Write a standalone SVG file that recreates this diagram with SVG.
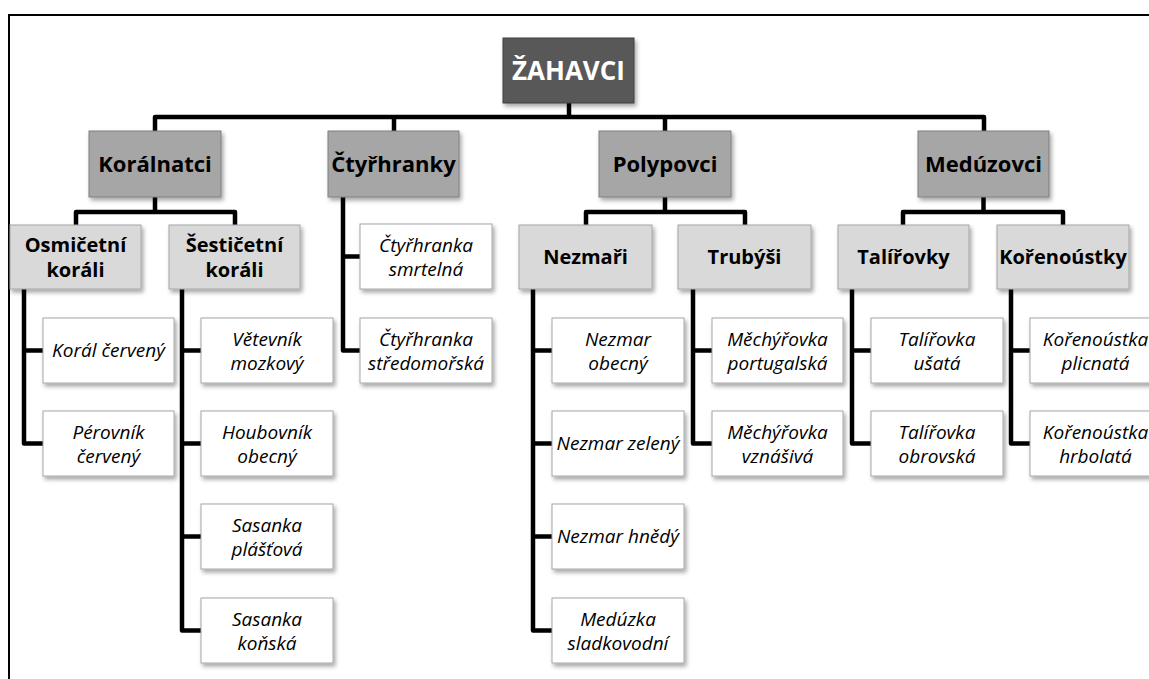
<svg xmlns="http://www.w3.org/2000/svg" width="1149" height="679" viewBox="0 0 1149 679">
<defs>
<filter id="sh" x="-10%" y="-10%" width="130%" height="140%">
<feDropShadow dx="2" dy="3" stdDeviation="2" flood-color="#000" flood-opacity="0.35"/>
</filter>
<style>
.box{filter:url(#sh);stroke-width:1}
.top{fill:#595959;stroke:#3f3f3f}
.l1{fill:#a6a6a6;stroke:#7f7f7f}
.l2{fill:#d9d9d9;stroke:#a6a6a6}
.lf{fill:#ffffff;stroke:#a6a6a6}
text{font-family:"Open Sans","Liberation Sans",sans-serif;text-anchor:middle}
.tt{font-size:26px;font-weight:bold;fill:#ffffff}
.t1{font-size:22px;font-weight:bold;fill:#000}
.t2{font-size:20px;font-weight:bold;fill:#000}
.tl{font-size:19px;font-style:italic;fill:#000}
.con{fill:none;stroke:#000;stroke-width:4.5;stroke-linejoin:round;stroke-linecap:butt}
</style>
</defs>
<rect width="1149" height="679" fill="#ffffff"/>
<path d="M9,680 V15 H1150" fill="none" stroke="#000" stroke-width="2"/>

<g id="connectors" class="con">
<path d="M569,103 V117"/>
<path d="M155,131 V117 H984 V131"/>
<path d="M394,117 V132"/>
<path d="M665,117 V131"/>
<path d="M155,197 V212"/>
<path d="M76,225 V212 H235 V225"/>
<path d="M24,289 V443.5 H43 M24,350.5 H43"/>
<path d="M182,289 V630.5 H201 M182,350.5 H201 M182,443.5 H201 M182,536.5 H201"/>
<path d="M343,196 V350.5 H360 M343,256.5 H360"/>
<path d="M665,197 V212"/>
<path d="M586,225 V212 H745 V225"/>
<path d="M533,289 V630.5 H552 M533,350.5 H552 M533,443.5 H552 M533,536.5 H552"/>
<path d="M693,289 V443.5 H712 M693,350.5 H712"/>
<path d="M983.5,197 V212"/>
<path d="M903,225 V212 H1063 V225"/>
<path d="M852,289 V443.5 H871 M852,350.5 H871"/>
<path d="M1011,289 V443.5 H1030 M1011,350.5 H1030"/>
</g>

<g id="zahavci"><rect class="box top" x="503" y="38" width="131" height="65"/><text class="tt" x="568.5" y="80">ŽAHAVCI</text></g>

<g id="koralnatci"><rect class="box l1" x="89" y="131" width="132" height="66"/><text class="t1" x="155" y="172">Korálnatci</text></g>
<g id="ctyrhranky"><rect class="box l1" x="328" y="131" width="131" height="66"/><text class="t1" x="393.5" y="172">Čtyřhranky</text></g>
<g id="polypovci"><rect class="box l1" x="599" y="131" width="132" height="66"/><text class="t1" x="665" y="172">Polypovci</text></g>
<g id="meduzovci"><rect class="box l1" x="918" y="131" width="131" height="66"/><text class="t1" x="983.5" y="172">Medúzovci</text></g>

<g id="osmicetni"><rect class="box l2" x="10" y="225" width="131" height="64"/><text class="t2" x="75.5" y="251.5">Osmičetní</text><text class="t2" x="75.5" y="276.5">koráli</text></g>
<g id="sesticetni"><rect class="box l2" x="169" y="225" width="131" height="64"/><text class="t2" x="234.5" y="251.5">Šestičetní</text><text class="t2" x="234.5" y="276.5">koráli</text></g>
<g id="nezmari"><rect class="box l2" x="519" y="225" width="133" height="64"/><text class="t2" x="585.5" y="264">Nezmaři</text></g>
<g id="trubysi"><rect class="box l2" x="678" y="225" width="133" height="64"/><text class="t2" x="744.5" y="264">Trubýši</text></g>
<g id="talirovky"><rect class="box l2" x="838" y="225" width="131" height="64"/><text class="t2" x="903.5" y="264">Talířovky</text></g>
<g id="korenoustky"><rect class="box l2" x="997" y="225" width="132" height="64"/><text class="t2" x="1063" y="264">Kořenoústky</text></g>

<g id="koral-cerveny"><rect class="box lf" x="43" y="318" width="131" height="65"/><text class="tl" x="108.5" y="357">Korál červený</text></g>
<g id="perovnik-cerveny"><rect class="box lf" x="43" y="411" width="131" height="65"/><text class="tl" x="108.5" y="438.5">Pérovník</text><text class="tl" x="108.5" y="462.5">červený</text></g>

<g id="vetevnik"><rect class="box lf" x="201" y="318" width="132" height="65"/><text class="tl" x="267" y="345.5">Větevník</text><text class="tl" x="267" y="369.5">mozkový</text></g>
<g id="houbovnik"><rect class="box lf" x="201" y="411" width="132" height="65"/><text class="tl" x="267" y="438.5">Houbovník</text><text class="tl" x="267" y="462.5">obecný</text></g>
<g id="sasanka-plastova"><rect class="box lf" x="201" y="504" width="132" height="65"/><text class="tl" x="267" y="531.5">Sasanka</text><text class="tl" x="267" y="555.5">plášťová</text></g>
<g id="sasanka-konska"><rect class="box lf" x="201" y="598" width="132" height="65"/><text class="tl" x="267" y="625.5">Sasanka</text><text class="tl" x="267" y="649.5">koňská</text></g>

<g id="ctyrhranka-smrtelna"><rect class="box lf" x="360" y="224" width="132" height="65"/><text class="tl" x="426" y="251.5">Čtyřhranka</text><text class="tl" x="426" y="275.5">smrtelná</text></g>
<g id="ctyrhranka-stredomorska"><rect class="box lf" x="360" y="318" width="132" height="65"/><text class="tl" x="426" y="345.5">Čtyřhranka</text><text class="tl" x="426" y="369.5">středomořská</text></g>

<g id="nezmar-obecny"><rect class="box lf" x="552" y="318" width="132" height="65"/><text class="tl" x="618" y="345.5">Nezmar</text><text class="tl" x="618" y="369.5">obecný</text></g>
<g id="nezmar-zeleny"><rect class="box lf" x="552" y="411" width="132" height="65"/><text class="tl" x="618" y="450">Nezmar zelený</text></g>
<g id="nezmar-hnedy"><rect class="box lf" x="552" y="504" width="132" height="65"/><text class="tl" x="618" y="543">Nezmar hnědý</text></g>
<g id="meduzka"><rect class="box lf" x="552" y="598" width="132" height="65"/><text class="tl" x="618" y="625.5">Medúzka</text><text class="tl" x="618" y="649.5">sladkovodní</text></g>

<g id="mechyrovka-portugalska"><rect class="box lf" x="712" y="318" width="131" height="65"/><text class="tl" x="777.5" y="345.5">Měchýřovka</text><text class="tl" x="777.5" y="369.5">portugalská</text></g>
<g id="mechyrovka-vznasiva"><rect class="box lf" x="712" y="411" width="131" height="65"/><text class="tl" x="777.5" y="438.5">Měchýřovka</text><text class="tl" x="777.5" y="462.5">vznášivá</text></g>

<g id="talirovka-usata"><rect class="box lf" x="871" y="318" width="132" height="65"/><text class="tl" x="937" y="345.5">Talířovka</text><text class="tl" x="937" y="369.5">ušatá</text></g>
<g id="talirovka-obrovska"><rect class="box lf" x="871" y="411" width="132" height="65"/><text class="tl" x="937" y="438.5">Talířovka</text><text class="tl" x="937" y="462.5">obrovská</text></g>

<g id="korenoustka-plicnata"><rect class="box lf" x="1030" y="318" width="131" height="65"/><text class="tl" x="1095.5" y="345.5">Kořenoústka</text><text class="tl" x="1095.5" y="369.5">plicnatá</text></g>
<g id="korenoustka-hrbolata"><rect class="box lf" x="1030" y="411" width="131" height="65"/><text class="tl" x="1095.5" y="438.5">Kořenoústka</text><text class="tl" x="1095.5" y="462.5">hrbolatá</text></g>
</svg>
